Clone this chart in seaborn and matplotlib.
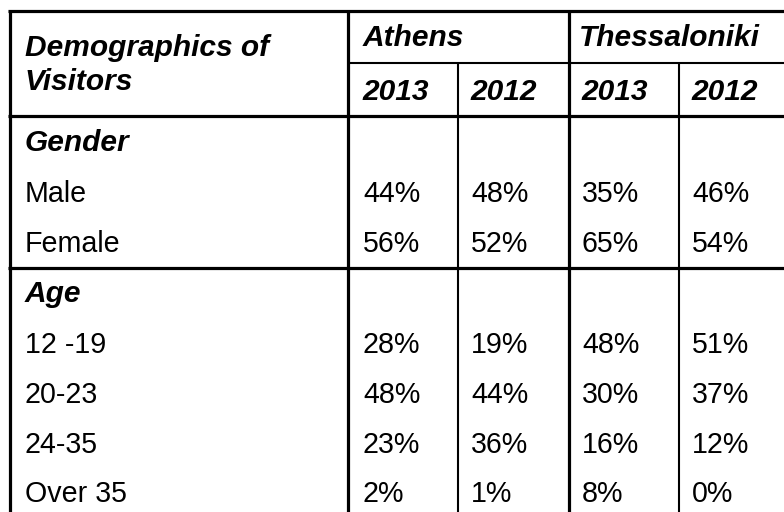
import numpy as np
import pandas as pd
import seaborn as sns
import matplotlib.pyplot as plt

# table content
title_lines = ["Demographics of", "Visitors"]
cities = ["Athens", "Thessaloniki"]
years = ["2013", "2012"]
sections = ["Gender", "Age"]
gender_rows = ["Male", "Female"]
age_rows = ["12 -19", "20-23", "24-35", "Over 35"]
athens_2013 = [44, 56, 28, 48, 23, 2]
athens_2012 = [48, 52, 19, 44, 36, 1]
thess_2013 = [35, 65, 48, 30, 16, 8]
thess_2012 = [46, 54, 51, 37, 12, 0]

df = pd.DataFrame({
    "Athens 2013": athens_2013,
    "Athens 2012": athens_2012,
    "Thessaloniki 2013": thess_2013,
    "Thessaloniki 2012": thess_2012,
}, index=gender_rows + age_rows)

sns.set_theme(style="white")
plt.rcParams['font.family'] = ['Liberation Sans', 'DejaVu Sans']
FS = 20.6
HFS = 21.5

fig = plt.figure(figsize=(7.84, 5.12), dpi=100)
ax = fig.add_axes([0, 0, 1, 1])
ax.set_xlim(0, 784)
ax.set_ylim(512, 0)
ax.axis("off")

thick, thin = 2.3, 1.5
# grid lines (pixel layout)
ax.hlines(11.3, 8.5, 784, color="black", lw=thick)
ax.vlines(10, 9.8, 512, color="black", lw=thick)
ax.vlines(348.5, 9.8, 512, color="black", lw=thick)
ax.vlines(569, 9.8, 512, color="black", lw=thick)
ax.hlines(62.5, 348.5, 784, color="black", lw=thin)
ax.vlines([458, 679], 62.5, 512, color="black", lw=thin)
ax.hlines([115.5, 267.5], 8.5, 784, color="black", lw=thick)

hdr = dict(fontsize=HFS, fontweight="bold", fontstyle="italic", va="baseline", ha="left", color="black")
body = dict(fontsize=FS, va="baseline", ha="left", color="black")

ax.text(25, 56.5, title_lines[0], **hdr)
ax.text(25, 89.5, title_lines[1], **hdr)
city_x = [363, 579]
for cx, city in zip(city_x, cities):
    ax.text(cx, 46.5, city, **hdr)
hdr_x = [362, 470, 581, 691]
for i, cx in enumerate(hdr_x):
    ax.text(cx, 100, years[i % 2], **hdr)

# section headers
ax.text(25, 151, sections[0], **hdr)
ax.text(25, 302, sections[1], **hdr)

col_x = [363, 471, 582, 692]
row_y = [202.5, 252, 353, 403, 453, 502]
for y, (label, vals) in zip(row_y, df.iterrows()):
    ax.text(25, y, label, **body)
    for cx, v in zip(col_x, vals.values):
        ax.text(cx, y, f"{v}%", **body)

fig.savefig("out.png", dpi=100)
